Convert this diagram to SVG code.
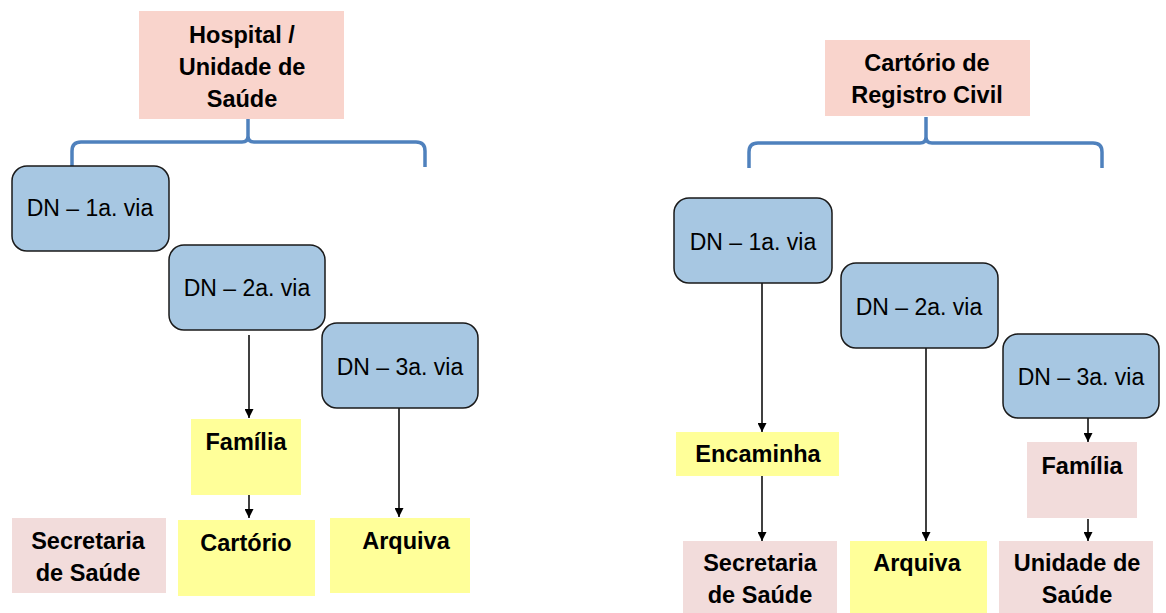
<svg xmlns="http://www.w3.org/2000/svg" width="1166" height="613" viewBox="0 0 1166 613">
<style>
.bold{font-family:"Liberation Sans",Arial,sans-serif;font-weight:bold;font-size:23.5px;fill:#000;text-anchor:middle}
.reg{font-family:"Liberation Sans",Arial,sans-serif;font-size:23px;fill:#000;text-anchor:middle}
.dn{fill:#A7C7E2;stroke:#1a1a1a;stroke-width:1.5}
.head{fill:#F9D4CC}
.pink{fill:#F2DCDB}
.yel{fill:#FFFF99}
.brace{fill:none;stroke:#4F81BD;stroke-width:3.5;stroke-linejoin:round}
.arr{stroke:#000;stroke-width:1.5;fill:none;marker-end:url(#ah)}
</style>
<defs>
<marker id="ah" viewBox="0 0 10 10" refX="10" refY="5" markerWidth="9" markerHeight="9" markerUnits="userSpaceOnUse" orient="auto">
<path d="M0,0 L10,5 L0,10 z" fill="#000"/>
</marker>
</defs>
<rect width="1166" height="613" fill="#fff"/>

<g id="connectors">
<path class="brace" d="M72,167 V151 Q72,142 81,142 H242 Q248,142 248,136 V115 M425,167 V151 Q425,142 416,142 H254 Q248,142 248,136"/>
<path class="brace" d="M749,168 V152 Q749,143 758,143 H920 Q926,143 926,137 V117 M1102,168 V152 Q1102,143 1093,143 H932 Q926,143 926,137"/>
<line class="arr" x1="249" y1="335" x2="249" y2="418"/>
<line class="arr" x1="249" y1="494" x2="249" y2="518"/>
<line class="arr" x1="399" y1="408" x2="399" y2="517"/>
<line class="arr" x1="762" y1="283" x2="762" y2="432"/>
<line class="arr" x1="762" y1="476" x2="762" y2="541"/>
<line class="arr" x1="926" y1="348" x2="926" y2="541"/>
<line class="arr" x1="1088" y1="418" x2="1088" y2="442"/>
<line class="arr" x1="1088" y1="519" x2="1088" y2="541"/>
</g>

<g id="hospital">
<rect class="head" x="139" y="11" width="205" height="108"/>
<text class="bold" x="242" y="43">Hospital /</text>
<text class="bold" x="242" y="75">Unidade de</text>
<text class="bold" x="242" y="107">Saúde</text>
</g>
<g id="l-dn1">
<rect class="dn" x="12" y="166" width="157" height="85" rx="15"/>
<text class="reg" x="90" y="216">DN – 1a. via</text>
</g>
<g id="l-dn2">
<rect class="dn" x="169" y="245" width="156" height="85" rx="15"/>
<text class="reg" x="247" y="296">DN – 2a. via</text>
</g>
<g id="l-dn3">
<rect class="dn" x="322" y="323" width="156" height="85" rx="15"/>
<text class="reg" x="400" y="375">DN – 3a. via</text>
</g>
<g id="l-familia">
<rect class="yel" x="191" y="419" width="110" height="76"/>
<text class="bold" x="246" y="450">Família</text>
</g>
<g id="l-cartorio">
<rect class="yel" x="178" y="520" width="137" height="76"/>
<text class="bold" x="246" y="551">Cartório</text>
</g>
<g id="l-arquiva">
<rect class="yel" x="330" y="518" width="140" height="75"/>
<text class="bold" x="406" y="549">Arquiva</text>
</g>
<g id="l-secretaria">
<rect class="pink" x="12" y="518" width="154" height="75"/>
<text class="bold" x="88" y="549">Secretaria</text>
<text class="bold" x="88" y="581">de Saúde</text>
</g>

<g id="cartorio-registro">
<rect class="head" x="825" y="40" width="205" height="76"/>
<text class="bold" x="927" y="71">Cartório de</text>
<text class="bold" x="927" y="103">Registro Civil</text>
</g>
<g id="r-dn1">
<rect class="dn" x="674" y="198" width="158" height="85" rx="15"/>
<text class="reg" x="753" y="250">DN – 1a. via</text>
</g>
<g id="r-dn2">
<rect class="dn" x="841" y="263" width="157" height="85" rx="15"/>
<text class="reg" x="919" y="315">DN – 2a. via</text>
</g>
<g id="r-dn3">
<rect class="dn" x="1003" y="334" width="156" height="84" rx="15"/>
<text class="reg" x="1081" y="385">DN – 3a. via</text>
</g>
<g id="r-encaminha">
<rect class="yel" x="676" y="432" width="163" height="44"/>
<text class="bold" x="758" y="462">Encaminha</text>
</g>
<g id="r-secretaria">
<rect class="pink" x="683" y="541" width="154" height="72"/>
<text class="bold" x="760" y="571">Secretaria</text>
<text class="bold" x="760" y="603">de Saúde</text>
</g>
<g id="r-arquiva">
<rect class="yel" x="850" y="541" width="137" height="72"/>
<text class="bold" x="917" y="571">Arquiva</text>
</g>
<g id="r-familia">
<rect class="pink" x="1027" y="442" width="110" height="76"/>
<text class="bold" x="1082" y="474">Família</text>
</g>
<g id="r-unidade">
<rect class="pink" x="999" y="541" width="154" height="72"/>
<text class="bold" x="1077" y="571">Unidade de</text>
<text class="bold" x="1077" y="603">Saúde</text>
</g>
</svg>
